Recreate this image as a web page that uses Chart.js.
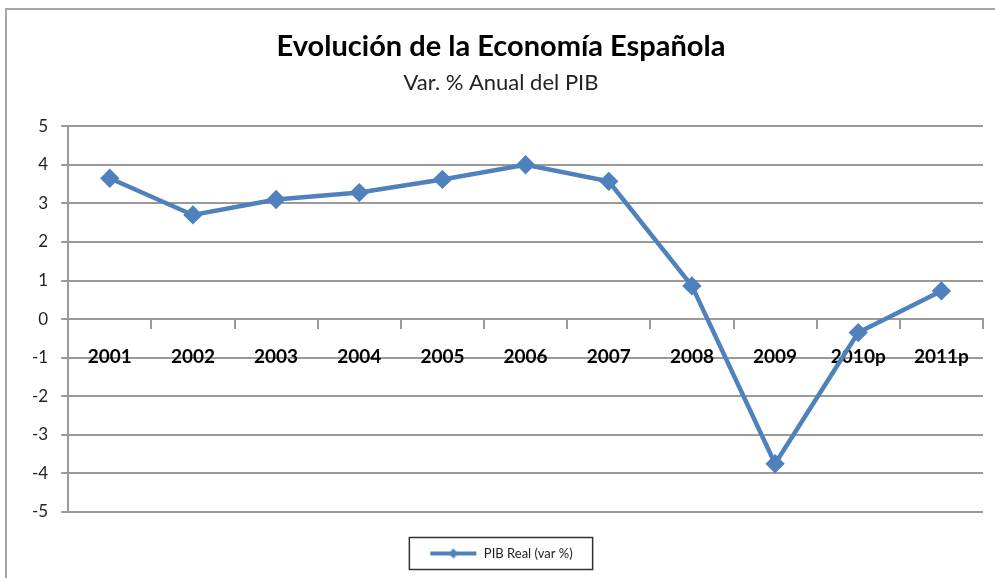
<!DOCTYPE html>
<html>
<head>
<meta charset="utf-8">
<script src="https://cdn.jsdelivr.net/npm/chart.js@4"></script>
<style>
  body { margin: 0; background: #fff; overflow: hidden; }
  #frame { position: absolute; left: 5px; top: 8px; width: 1010px; height: 600px; border: 2px solid #a6a6a6; }
  #wrap { position: absolute; left: 0; top: 0; width: 995px; height: 578px; }
</style>
</head>
<body>
<div id="frame"></div>
<div id="wrap"><canvas id="pibChart"></canvas></div>
<script>
// years on the x axis
var years = ['2001', '2002', '2003', '2004', '2005', '2006', '2007', '2008', '2009', '2010p', '2011p'];
// real GDP, annual % change
var pibValues = [3.65, 2.7, 3.1, 3.28, 3.62, 4.0, 3.57, 0.86, -3.75, -0.35, 0.73];
var yTicks = [5, 4, 3, 2, 1, 0, -1, -2, -3, -4, -5];

var lineColor = '#4F81BD';
var gridColor = '#9a9a9a';

// legend symbol: short line with a diamond on it, like Excel
function legendSymbol() {
  var c = document.createElement('canvas');
  c.width = 48; c.height = 14;
  var g = c.getContext('2d');
  g.strokeStyle = lineColor;
  g.lineWidth = 4;
  g.beginPath(); g.moveTo(1, 7); g.lineTo(47, 7); g.stroke();
  g.fillStyle = lineColor;
  g.beginPath(); g.moveTo(24, 2); g.lineTo(29, 7); g.lineTo(24, 12); g.lineTo(19, 7); g.closePath(); g.fill();
  return c;
}

// box around the legend
var legendBorder = {
  id: 'legendBorder',
  afterDraw: function(chart) {
    var lg = chart.legend;
    if (!lg || !lg.legendHitBoxes.length) return;
    var hb = lg.legendHitBoxes[0];
    var ctx = chart.ctx;
    ctx.save();
    ctx.strokeStyle = '#333';
    ctx.lineWidth = 1.5;
    ctx.strokeRect(hb.left - 20, hb.top + hb.height / 2 - 16, hb.width + 40, 32);
    ctx.restore();
  }
};

const ctx = document.getElementById('pibChart');
const pibChart = new Chart(ctx, {
  type: 'line',
  data: {
    labels: years,
    datasets: [{
      label: 'PIB Real (var %)',
      data: pibValues,
      borderColor: lineColor,
      backgroundColor: lineColor,
      borderWidth: 4.5,
      pointStyle: 'rectRot',
      pointRadius: 6.5,
      pointHoverRadius: 6.5,
      fill: false,
      tension: 0
    }]
  },
  options: {
    responsive: true,
    maintainAspectRatio: false,
    animation: false,
    layout: { padding: { left: 19, right: 12, top: 0, bottom: 8 } },
    plugins: {
      title: {
        display: true,
        text: 'Evolución de la Economía Española',
        color: '#000',
        font: { family: 'Lato', size: 29, weight: 'bold' },
        padding: { top: 29, bottom: 4 }
      },
      subtitle: {
        display: true,
        text: 'Var. % Anual del PIB',
        color: '#222',
        font: { family: 'Lato', size: 22 },
        padding: { top: 2, bottom: 30 }
      },
      legend: {
        position: 'bottom',
        labels: {
          usePointStyle: true,
          pointStyle: legendSymbol(),
          pointStyleWidth: 48,
          color: '#222',
          font: { family: 'Lato', size: 13 },
          padding: 35
        }
      },
      tooltip: { enabled: false }
    },
    scales: {
      x: {
        position: { y: 0 },
        offset: true,
        grid: { display: true, drawOnChartArea: false, offset: true, tickLength: 9, color: gridColor, lineWidth: 2 },
        border: { display: true, color: gridColor, width: 2 },
        ticks: {
          color: '#000',
          padding: 17,
          maxRotation: 0,
          font: { family: 'Lato', size: 19, weight: 'bold' }
        }
      },
      y: {
        min: -5,
        max: 5,
        afterBuildTicks: function(axis) {
          axis.ticks = yTicks.map(function(v) { return { value: v }; });
        },
        grid: { color: gridColor, lineWidth: 2, tickLength: 7 },
        border: { display: true, color: gridColor, width: 2 },
        ticks: {
          color: '#222',
          padding: 13,
          font: { family: 'Lato', size: 17 }
        }
      }
    }
  },
  plugins: [legendBorder]
});
</script>
</body>
</html>
